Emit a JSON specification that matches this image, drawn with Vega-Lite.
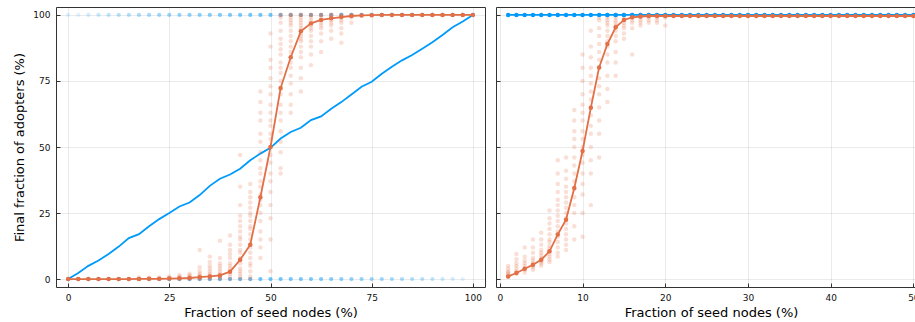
{
"$schema": "https://vega.github.io/schema/vega-lite/v6.json",
"padding": {"left": 12, "top": 6, "right": 0, "bottom": 0},
"spacing": 9,
"config": {
 "font": "DejaVu Sans",
 "view": {"stroke": "#333", "strokeWidth": 1},
 "axis": {"labelFont": "DejaVu Sans", "labelFontSize": 9, "labelColor": "#111", "titleFont": "DejaVu Sans", "titleFontSize": 13, "titleFontWeight": "normal", "titleColor": "#000", "gridColor": "#000", "gridOpacity": 0.1, "gridWidth": 0.8, "tickColor": "#333", "tickSize": -4, "labelPadding": 10, "domainColor": "#333", "labelFlush": false}
},
"datasets": {
 "blueMeanL": [{"x":0,"y":0},{"x":2.5,"y":2.3},{"x":5,"y":5},{"x":7.5,"y":7},{"x":10,"y":9.5},{"x":12.5,"y":12.3},{"x":15,"y":15.5},{"x":17.5,"y":17},{"x":20,"y":20},{"x":22.5,"y":22.7},{"x":25,"y":25},{"x":27.5,"y":27.5},{"x":30,"y":29},{"x":32.5,"y":31.8},{"x":35,"y":35.3},{"x":37.5,"y":38},{"x":40,"y":39.6},{"x":42.5,"y":41.8},{"x":45,"y":45},{"x":47.5,"y":47.5},{"x":50,"y":49.7},{"x":52.5,"y":53.2},{"x":55,"y":55.7},{"x":57.5,"y":57.3},{"x":60,"y":60.2},{"x":62.5,"y":61.6},{"x":65,"y":64.5},{"x":67.5,"y":67},{"x":70,"y":69.9},{"x":72.5,"y":72.8},{"x":75,"y":74.7},{"x":77.5,"y":77.7},{"x":80,"y":80.4},{"x":82.5,"y":82.8},{"x":85,"y":84.8},{"x":87.5,"y":87.2},{"x":90,"y":89.7},{"x":92.5,"y":92.4},{"x":95,"y":95.3},{"x":97.5,"y":97.5},{"x":100,"y":100}],
 "orangeMeanL": [{"x":0,"y":0},{"x":2.5,"y":0},{"x":5,"y":0},{"x":7.5,"y":0},{"x":10,"y":0},{"x":12.5,"y":0},{"x":15,"y":0},{"x":17.5,"y":0.05},{"x":20,"y":0.1},{"x":22.5,"y":0.1},{"x":25,"y":0.2},{"x":27.5,"y":0.3},{"x":30,"y":0.4},{"x":32.5,"y":0.7},{"x":35,"y":1},{"x":37.5,"y":1.4},{"x":40,"y":2.8},{"x":42.5,"y":7.3},{"x":45,"y":13},{"x":47.5,"y":31},{"x":50,"y":50},{"x":52.5,"y":72.3},{"x":55,"y":84},{"x":57.5,"y":93.8},{"x":60,"y":96.8},{"x":62.5,"y":98.1},{"x":65,"y":98.7},{"x":67.5,"y":99.2},{"x":70,"y":99.6},{"x":72.5,"y":99.8},{"x":75,"y":99.9},{"x":77.5,"y":100},{"x":80,"y":100},{"x":82.5,"y":100},{"x":85,"y":100},{"x":87.5,"y":100},{"x":90,"y":100},{"x":92.5,"y":100},{"x":95,"y":100},{"x":97.5,"y":100},{"x":100,"y":100}],
 "blueRunsL": [{"x":0,"y":100,"runs":1},{"x":2.5,"y":100,"runs":1},{"x":5,"y":100,"runs":2},{"x":7.5,"y":100,"runs":3},{"x":10,"y":100,"runs":4},{"x":12.5,"y":100,"runs":5},{"x":15,"y":100,"runs":6},{"x":17.5,"y":100,"runs":7},{"x":20,"y":100,"runs":8},{"x":22.5,"y":100,"runs":9},{"x":25,"y":100,"runs":10},{"x":27.5,"y":100,"runs":11},{"x":30,"y":100,"runs":12},{"x":32.5,"y":100,"runs":13},{"x":35,"y":100,"runs":14},{"x":37.5,"y":100,"runs":15},{"x":40,"y":100,"runs":16},{"x":42.5,"y":100,"runs":17},{"x":45,"y":100,"runs":18},{"x":47.5,"y":100,"runs":19},{"x":50,"y":100,"runs":20},{"x":52.5,"y":100,"runs":21},{"x":55,"y":100,"runs":22},{"x":57.5,"y":100,"runs":23},{"x":60,"y":100,"runs":24},{"x":62.5,"y":100,"runs":25},{"x":65,"y":100,"runs":26},{"x":67.5,"y":100,"runs":27},{"x":70,"y":100,"runs":28},{"x":72.5,"y":100,"runs":29},{"x":75,"y":100,"runs":30},{"x":77.5,"y":100,"runs":31},{"x":80,"y":100,"runs":32},{"x":82.5,"y":100,"runs":33},{"x":85,"y":100,"runs":34},{"x":87.5,"y":100,"runs":35},{"x":90,"y":100,"runs":36},{"x":92.5,"y":100,"runs":37},{"x":95,"y":100,"runs":38},{"x":97.5,"y":100,"runs":39},{"x":100,"y":100,"runs":40},
 {"x":0,"y":0,"runs":39},{"x":2.5,"y":0,"runs":39},{"x":5,"y":0,"runs":38},{"x":7.5,"y":0,"runs":37},{"x":10,"y":0,"runs":36},{"x":12.5,"y":0,"runs":35},{"x":15,"y":0,"runs":34},{"x":17.5,"y":0,"runs":33},{"x":20,"y":0,"runs":32},{"x":22.5,"y":0,"runs":31},{"x":25,"y":0,"runs":30},{"x":27.5,"y":0,"runs":29},{"x":30,"y":0,"runs":28},{"x":32.5,"y":0,"runs":27},{"x":35,"y":0,"runs":26},{"x":37.5,"y":0,"runs":25},{"x":40,"y":0,"runs":24},{"x":42.5,"y":0,"runs":23},{"x":45,"y":0,"runs":22},{"x":47.5,"y":0,"runs":21},{"x":50,"y":0,"runs":20},{"x":52.5,"y":0,"runs":19},{"x":55,"y":0,"runs":18},{"x":57.5,"y":0,"runs":17},{"x":60,"y":0,"runs":16},{"x":62.5,"y":0,"runs":15},{"x":65,"y":0,"runs":14},{"x":67.5,"y":0,"runs":13},{"x":70,"y":0,"runs":12},{"x":72.5,"y":0,"runs":11},{"x":75,"y":0,"runs":10},{"x":77.5,"y":0,"runs":9},{"x":80,"y":0,"runs":8},{"x":82.5,"y":0,"runs":7},{"x":85,"y":0,"runs":6},{"x":87.5,"y":0,"runs":5},{"x":90,"y":0,"runs":4},{"x":92.5,"y":0,"runs":3},{"x":95,"y":0,"runs":2},{"x":97.5,"y":0,"runs":1}],
 "orangeRunsL": [
 {"x":17.5,"y":0},{"x":17.5,"y":0.6},{"x":20,"y":0},{"x":20,"y":0.6},{"x":22.5,"y":0},{"x":22.5,"y":0.6},{"x":25,"y":0},{"x":25,"y":0.5},{"x":25,"y":1},
 {"x":27.5,"y":0},{"x":27.5,"y":0.5},{"x":27.5,"y":1},{"x":27.5,"y":1.5},
 {"x":30,"y":0},{"x":30,"y":0.5},{"x":30,"y":1},{"x":30,"y":1.5},{"x":30,"y":2},
 {"x":32.5,"y":0},{"x":32.5,"y":0.5},{"x":32.5,"y":1},{"x":32.5,"y":1.5},{"x":32.5,"y":2},{"x":32.5,"y":3},{"x":32.5,"y":4.5},{"x":32.5,"y":11},
 {"x":35,"y":0},{"x":35,"y":0.5},{"x":35,"y":1},{"x":35,"y":1.5},{"x":35,"y":2},{"x":35,"y":3},{"x":35,"y":4},{"x":35,"y":5},{"x":35,"y":6.5},{"x":35,"y":8.5},
 {"x":37.5,"y":0},{"x":37.5,"y":0.5},{"x":37.5,"y":1},{"x":37.5,"y":1.5},{"x":37.5,"y":2},{"x":37.5,"y":3},{"x":37.5,"y":4},{"x":37.5,"y":5},{"x":37.5,"y":6},{"x":37.5,"y":8},{"x":37.5,"y":14.5},
 {"x":40,"y":0},{"x":40,"y":1},{"x":40,"y":2},{"x":40,"y":3},{"x":40,"y":4},{"x":40,"y":5},{"x":40,"y":6},{"x":40,"y":8},{"x":40,"y":9.5},{"x":40,"y":11},{"x":40,"y":13},{"x":40,"y":16.5},
 {"x":42.5,"y":0},{"x":42.5,"y":1},{"x":42.5,"y":2},{"x":42.5,"y":3},{"x":42.5,"y":4},{"x":42.5,"y":6},{"x":42.5,"y":7},{"x":42.5,"y":8},{"x":42.5,"y":10},{"x":42.5,"y":11},{"x":42.5,"y":13},{"x":42.5,"y":15},{"x":42.5,"y":16},{"x":42.5,"y":18},{"x":42.5,"y":20},{"x":42.5,"y":22},{"x":42.5,"y":24},{"x":42.5,"y":28},{"x":42.5,"y":35},{"x":42.5,"y":47},
 {"x":45,"y":0},{"x":45,"y":1},{"x":45,"y":3},{"x":45,"y":5},{"x":45,"y":6},{"x":45,"y":8},{"x":45,"y":10},{"x":45,"y":12},{"x":45,"y":13},{"x":45,"y":15},{"x":45,"y":17},{"x":45,"y":19},{"x":45,"y":20},{"x":45,"y":22},{"x":45,"y":24},{"x":45,"y":25},{"x":45,"y":27},{"x":45,"y":29},{"x":45,"y":31},{"x":45,"y":33},{"x":45,"y":36},
 {"x":47.5,"y":8},{"x":47.5,"y":12},{"x":47.5,"y":15},{"x":47.5,"y":18},{"x":47.5,"y":22},{"x":47.5,"y":25},{"x":47.5,"y":28},{"x":47.5,"y":30},{"x":47.5,"y":32},{"x":47.5,"y":35},{"x":47.5,"y":37},{"x":47.5,"y":40},{"x":47.5,"y":42},{"x":47.5,"y":45},{"x":47.5,"y":48},{"x":47.5,"y":52},{"x":47.5,"y":55},{"x":47.5,"y":60},{"x":47.5,"y":63},{"x":47.5,"y":67},{"x":47.5,"y":71},
 {"x":50,"y":3},{"x":50,"y":15},{"x":50,"y":23},{"x":50,"y":28},{"x":50,"y":33},{"x":50,"y":37},{"x":50,"y":40},{"x":50,"y":44},{"x":50,"y":47},{"x":50,"y":50},{"x":50,"y":53},{"x":50,"y":55},{"x":50,"y":58},{"x":50,"y":60},{"x":50,"y":63},{"x":50,"y":66},{"x":50,"y":70},{"x":50,"y":73},{"x":50,"y":76},{"x":50,"y":80},{"x":50,"y":83},{"x":50,"y":88},{"x":50,"y":93},
 {"x":52.5,"y":40},{"x":52.5,"y":42},{"x":52.5,"y":48},{"x":52.5,"y":52},{"x":52.5,"y":56},{"x":52.5,"y":60},{"x":52.5,"y":63},{"x":52.5,"y":66},{"x":52.5,"y":70},{"x":52.5,"y":72},{"x":52.5,"y":75},{"x":52.5,"y":78},{"x":52.5,"y":80},{"x":52.5,"y":82},{"x":52.5,"y":85},{"x":52.5,"y":87},{"x":52.5,"y":89},{"x":52.5,"y":91},{"x":52.5,"y":94},{"x":52.5,"y":97},{"x":52.5,"y":99},{"x":52.5,"y":100},{"x":52.5,"y":100},
 {"x":55,"y":63},{"x":55,"y":66},{"x":55,"y":70},{"x":55,"y":74},{"x":55,"y":77},{"x":55,"y":80},{"x":55,"y":82},{"x":55,"y":84},{"x":55,"y":86},{"x":55,"y":88},{"x":55,"y":90},{"x":55,"y":92},{"x":55,"y":94},{"x":55,"y":96},{"x":55,"y":97},{"x":55,"y":98},{"x":55,"y":99},{"x":55,"y":100},{"x":55,"y":100},{"x":55,"y":100},
 {"x":57.5,"y":71},{"x":57.5,"y":76},{"x":57.5,"y":80},{"x":57.5,"y":84},{"x":57.5,"y":86},{"x":57.5,"y":88},{"x":57.5,"y":90},{"x":57.5,"y":91},{"x":57.5,"y":92},{"x":57.5,"y":93},{"x":57.5,"y":94},{"x":57.5,"y":95},{"x":57.5,"y":96},{"x":57.5,"y":97},{"x":57.5,"y":98},{"x":57.5,"y":99},{"x":57.5,"y":100},{"x":57.5,"y":100},{"x":57.5,"y":100},
 {"x":60,"y":81},{"x":60,"y":85},{"x":60,"y":88},{"x":60,"y":90},{"x":60,"y":92},{"x":60,"y":94},{"x":60,"y":95},{"x":60,"y":96},{"x":60,"y":97},{"x":60,"y":98},{"x":60,"y":99},{"x":60,"y":100},{"x":60,"y":100},{"x":60,"y":100},
 {"x":62.5,"y":86},{"x":62.5,"y":90},{"x":62.5,"y":93},{"x":62.5,"y":95},{"x":62.5,"y":96},{"x":62.5,"y":97},{"x":62.5,"y":98},{"x":62.5,"y":99},{"x":62.5,"y":100},{"x":62.5,"y":100},{"x":62.5,"y":100},
 {"x":65,"y":91},{"x":65,"y":94},{"x":65,"y":96},{"x":65,"y":97},{"x":65,"y":98},{"x":65,"y":99},{"x":65,"y":100},{"x":65,"y":100},{"x":65,"y":100},
 {"x":67.5,"y":89.5},{"x":67.5,"y":93},{"x":67.5,"y":95},{"x":67.5,"y":97},{"x":67.5,"y":98},{"x":67.5,"y":99},{"x":67.5,"y":100},{"x":67.5,"y":100},
 {"x":70,"y":97},{"x":70,"y":99},{"x":70,"y":100},{"x":70,"y":100}],
 "blueMeanR": [{"x":1,"y":100},{"x":2,"y":100},{"x":3,"y":100},{"x":4,"y":100},{"x":5,"y":100},{"x":6,"y":100},{"x":7,"y":100},{"x":8,"y":100},{"x":9,"y":100},{"x":10,"y":100},{"x":11,"y":100},{"x":12,"y":100},{"x":13,"y":100},{"x":14,"y":100},{"x":15,"y":100},{"x":16,"y":100},{"x":17,"y":100},{"x":18,"y":100},{"x":19,"y":100},{"x":20,"y":100},{"x":21,"y":100},{"x":22,"y":100},{"x":23,"y":100},{"x":24,"y":100},{"x":25,"y":100},{"x":26,"y":100},{"x":27,"y":100},{"x":28,"y":100},{"x":29,"y":100},{"x":30,"y":100},{"x":31,"y":100},{"x":32,"y":100},{"x":33,"y":100},{"x":34,"y":100},{"x":35,"y":100},{"x":36,"y":100},{"x":37,"y":100},{"x":38,"y":100},{"x":39,"y":100},{"x":40,"y":100},{"x":41,"y":100},{"x":42,"y":100},{"x":43,"y":100},{"x":44,"y":100},{"x":45,"y":100},{"x":46,"y":100},{"x":47,"y":100},{"x":48,"y":100},{"x":49,"y":100},{"x":50,"y":100}],
 "orangeMeanR": [{"x":1,"y":1},{"x":2,"y":2.3},{"x":3,"y":3.9},{"x":4,"y":5.4},{"x":5,"y":7.3},{"x":6,"y":10.5},{"x":7,"y":16.9},{"x":8,"y":22.5},{"x":9,"y":34.5},{"x":10,"y":48.5},{"x":11,"y":64.9},{"x":12,"y":80.1},{"x":13,"y":89},{"x":14,"y":95.3},{"x":15,"y":98.1},{"x":16,"y":99.1},{"x":17,"y":99.4},{"x":18,"y":99.6},{"x":19,"y":99.6},{"x":20,"y":99.6},{"x":21,"y":99.6},{"x":22,"y":99.6},{"x":23,"y":99.6},{"x":24,"y":99.6},{"x":25,"y":99.6},{"x":26,"y":99.6},{"x":27,"y":99.6},{"x":28,"y":99.6},{"x":29,"y":99.6},{"x":30,"y":99.6},{"x":31,"y":99.6},{"x":32,"y":99.6},{"x":33,"y":99.6},{"x":34,"y":99.6},{"x":35,"y":99.6},{"x":36,"y":99.6},{"x":37,"y":99.6},{"x":38,"y":99.6},{"x":39,"y":99.6},{"x":40,"y":99.6},{"x":41,"y":99.6},{"x":42,"y":99.6},{"x":43,"y":99.6},{"x":44,"y":99.6},{"x":45,"y":99.6},{"x":46,"y":99.6},{"x":47,"y":99.6},{"x":48,"y":99.6},{"x":49,"y":99.6},{"x":50,"y":99.6}],
 "orangeRunsR": [
 {"x":1,"y":1},{"x":1,"y":1.5},{"x":1,"y":2},{"x":1,"y":2.5},{"x":1,"y":3},{"x":1,"y":4},{"x":1,"y":5},
 {"x":2,"y":2},{"x":2,"y":2.5},{"x":2,"y":3},{"x":2,"y":4},{"x":2,"y":5},{"x":2,"y":6},{"x":2,"y":7.5},{"x":2,"y":9.5},
 {"x":3,"y":2.5},{"x":3,"y":3.5},{"x":3,"y":4},{"x":3,"y":5},{"x":3,"y":6},{"x":3,"y":7},{"x":3,"y":8.5},{"x":3,"y":12},
 {"x":4,"y":3.5},{"x":4,"y":4.5},{"x":4,"y":5},{"x":4,"y":6},{"x":4,"y":7},{"x":4,"y":8},{"x":4,"y":10},{"x":4,"y":12},{"x":4,"y":15},
 {"x":5,"y":5},{"x":5,"y":6},{"x":5,"y":6.5},{"x":5,"y":7},{"x":5,"y":8},{"x":5,"y":9},{"x":5,"y":10},{"x":5,"y":11},{"x":5,"y":13},{"x":5,"y":15},{"x":5,"y":17.5},
 {"x":6,"y":6.5},{"x":6,"y":7.5},{"x":6,"y":8.5},{"x":6,"y":9.5},{"x":6,"y":10.5},{"x":6,"y":11.5},{"x":6,"y":12.5},{"x":6,"y":14},{"x":6,"y":15},{"x":6,"y":17},{"x":6,"y":19},{"x":6,"y":21},{"x":6,"y":23},{"x":6,"y":26},
 {"x":7,"y":8.5},{"x":7,"y":10},{"x":7,"y":12},{"x":7,"y":14},{"x":7,"y":16},{"x":7,"y":18},{"x":7,"y":20},{"x":7,"y":22},{"x":7,"y":24},{"x":7,"y":26},{"x":7,"y":28},{"x":7,"y":30},{"x":7,"y":33},{"x":7,"y":36},{"x":7,"y":40},{"x":7,"y":45},
 {"x":8,"y":11},{"x":8,"y":13},{"x":8,"y":15},{"x":8,"y":17},{"x":8,"y":19},{"x":8,"y":21},{"x":8,"y":23},{"x":8,"y":25},{"x":8,"y":27},{"x":8,"y":29},{"x":8,"y":31},{"x":8,"y":33},{"x":8,"y":35},{"x":8,"y":38},{"x":8,"y":41},{"x":8,"y":46},
 {"x":9,"y":15},{"x":9,"y":20},{"x":9,"y":25},{"x":9,"y":28},{"x":9,"y":31},{"x":9,"y":34},{"x":9,"y":37},{"x":9,"y":40},{"x":9,"y":43},{"x":9,"y":46},{"x":9,"y":50},{"x":9,"y":53},{"x":9,"y":56},{"x":9,"y":60},{"x":9,"y":64},
 {"x":10,"y":16},{"x":10,"y":25},{"x":10,"y":32},{"x":10,"y":36},{"x":10,"y":40},{"x":10,"y":44},{"x":10,"y":47},{"x":10,"y":50},{"x":10,"y":53},{"x":10,"y":56},{"x":10,"y":60},{"x":10,"y":63},{"x":10,"y":66},{"x":10,"y":70},{"x":10,"y":75},{"x":10,"y":80},{"x":10,"y":85},
 {"x":11,"y":28},{"x":11,"y":40},{"x":11,"y":45},{"x":11,"y":50},{"x":11,"y":55},{"x":11,"y":58},{"x":11,"y":62},{"x":11,"y":65},{"x":11,"y":68},{"x":11,"y":71},{"x":11,"y":74},{"x":11,"y":77},{"x":11,"y":80},{"x":11,"y":84},{"x":11,"y":88},{"x":11,"y":94},
 {"x":12,"y":46},{"x":12,"y":55},{"x":12,"y":60},{"x":12,"y":65},{"x":12,"y":70},{"x":12,"y":73},{"x":12,"y":76},{"x":12,"y":80},{"x":12,"y":83},{"x":12,"y":86},{"x":12,"y":89},{"x":12,"y":92},{"x":12,"y":95},{"x":12,"y":98},{"x":12,"y":99},
 {"x":13,"y":67},{"x":13,"y":72},{"x":13,"y":77},{"x":13,"y":82},{"x":13,"y":85},{"x":13,"y":88},{"x":13,"y":90},{"x":13,"y":92},{"x":13,"y":94},{"x":13,"y":96},{"x":13,"y":97},{"x":13,"y":98},{"x":13,"y":99},{"x":13,"y":100},{"x":13,"y":100},
 {"x":14,"y":77},{"x":14,"y":82},{"x":14,"y":86},{"x":14,"y":90},{"x":14,"y":92},{"x":14,"y":94},{"x":14,"y":96},{"x":14,"y":97},{"x":14,"y":98},{"x":14,"y":99},{"x":14,"y":100},{"x":14,"y":100},{"x":14,"y":100},
 {"x":15,"y":91},{"x":15,"y":93},{"x":15,"y":95},{"x":15,"y":96},{"x":15,"y":97},{"x":15,"y":98},{"x":15,"y":99},{"x":15,"y":100},{"x":15,"y":100},{"x":15,"y":100},
 {"x":16,"y":85},{"x":16,"y":95},{"x":16,"y":97},{"x":16,"y":98},{"x":16,"y":99},{"x":16,"y":100},{"x":16,"y":100},{"x":16,"y":100},
 {"x":17,"y":96},{"x":17,"y":97},{"x":17,"y":98},{"x":17,"y":99},{"x":17,"y":100},{"x":17,"y":100},
 {"x":18,"y":97},{"x":18,"y":98},{"x":18,"y":99},{"x":18,"y":100},{"x":18,"y":100},
 {"x":19,"y":97},{"x":19,"y":98},{"x":19,"y":99},{"x":19,"y":100},
 {"x":20,"y":96},{"x":20,"y":99},{"x":20,"y":100}]
},
"hconcat": [
 {
  "width": 429, "height": 280,
  "encoding": {
   "x": {"field": "x", "type": "quantitative", "scale": {"domain": [-3, 103], "nice": false, "zero": false}, "axis": {"values": [0, 25, 50, 75, 100], "title": "Fraction of seed nodes (%)", "domain": false, "grid": true}},
   "y": {"field": "y", "type": "quantitative", "scale": {"domain": [-3, 103], "nice": false, "zero": false}, "axis": {"values": [0, 25, 50, 75, 100], "title": "Final fraction of adopters (%)", "domain": false, "grid": true, "titleX": -30}}
  },
  "layer": [
   {"data": {"name": "blueRunsL"}, "mark": {"type": "circle", "size": 18, "color": "#009AFA"}, "encoding": {"opacity": {"field": "runs", "type": "quantitative", "scale": {"type": "sqrt", "domain": [0, 40], "range": [0, 0.8]}, "legend": null}}},
   {"data": {"name": "blueMeanL"}, "mark": {"type": "line", "color": "#009AFA", "strokeWidth": 1.8}},
   {"data": {"name": "orangeRunsL"}, "mark": {"type": "circle", "size": 20, "color": "#E26F46", "opacity": 0.22}},
   {"data": {"name": "orangeMeanL"}, "mark": {"type": "line", "color": "#E26F46", "strokeWidth": 1.8, "point": {"filled": true, "size": 20, "color": "#E26F46", "opacity": 1}}}
  ]
 },
 {
  "width": 419, "height": 280,
  "view": {"stroke": null},
  "resolve": {"axis": {"x": "independent"}},
  "encoding": {
   "x": {"field": "x", "type": "quantitative", "scale": {"domain": [-0.47, 50.2], "nice": false, "zero": false}, "axis": null},
   "y": {"field": "y", "type": "quantitative", "scale": {"domain": [-3, 103], "nice": false, "zero": false}, "axis": {"values": [0, 25, 50, 75, 100], "labels": false, "title": null, "domain": true, "grid": true}}
  },
  "layer": [
   {"data": {"name": "orangeRunsR"}, "mark": {"type": "circle", "size": 20, "color": "#E26F46", "opacity": 0.22, "clip": true},
    "encoding": {"x": {"field": "x", "type": "quantitative", "axis": {"values": [0, 10, 20, 30, 40, 50], "title": "Fraction of seed nodes (%)", "titleX": 215, "domain": true, "grid": true}}}},
   {"data": {"name": "blueMeanR"}, "mark": {"type": "line", "color": "#009AFA", "strokeWidth": 1.8, "clip": true, "point": {"filled": true, "size": 20, "color": "#009AFA", "opacity": 1}},
    "encoding": {"x": {"field": "x", "type": "quantitative", "axis": {"orient": "top", "labels": false, "ticks": false, "grid": false, "domain": true, "title": null}}}},
   {"data": {"name": "orangeMeanR"}, "mark": {"type": "line", "color": "#E26F46", "strokeWidth": 1.8, "clip": true, "point": {"filled": true, "size": 20, "color": "#E26F46", "opacity": 1}}}
  ]
 }
]
}
